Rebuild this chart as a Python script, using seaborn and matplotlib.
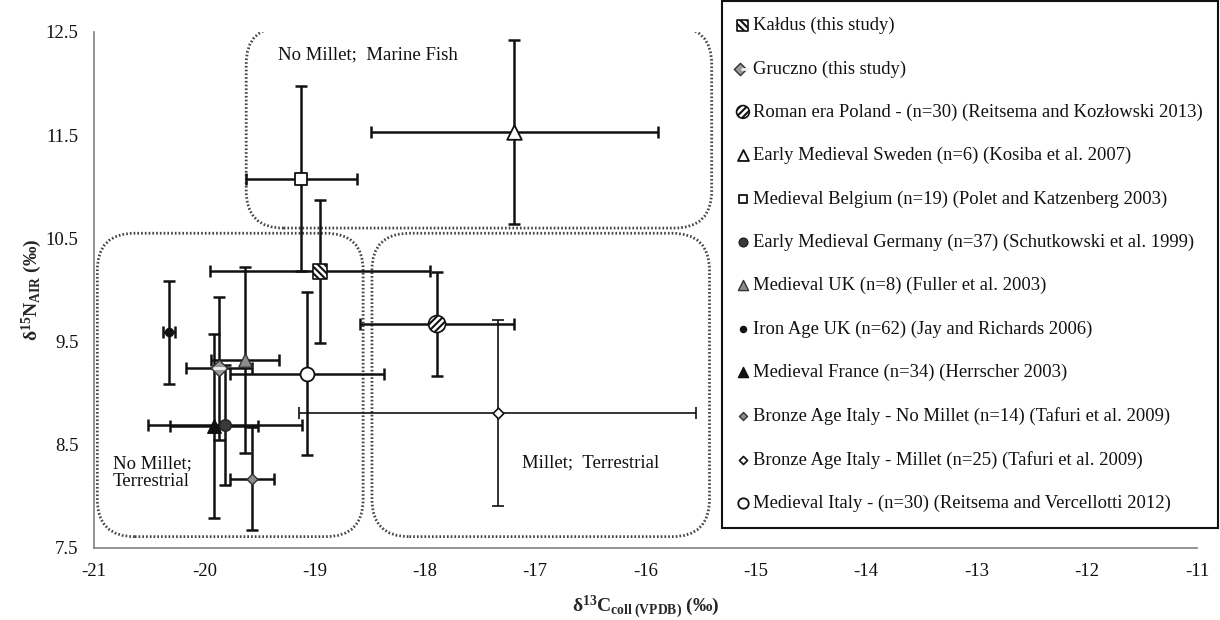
import matplotlib
matplotlib.use("Agg")
import matplotlib.pyplot as plt
import seaborn as sns
import pandas as pd
from matplotlib.patches import FancyBboxPatch
from matplotlib.legend_handler import HandlerTuple

# ---- data: mean d13C / d15N with 1 SD ----
groups = [
    "Kałdus (this study)",
    "Gruczno (this study)",
    "Roman era Poland - (n=30) (Reitsema and Kozłowski 2013)",
    "Early Medieval Sweden (n=6) (Kosiba et al. 2007)",
    "Medieval Belgium (n=19) (Polet and Katzenberg 2003)",
    "Early Medieval Germany (n=37) (Schutkowski et al. 1999)",
    "Medieval UK (n=8) (Fuller et al. 2003)",
    "Iron Age UK (n=62) (Jay and Richards 2006)",
    "Medieval France (n=34) (Herrscher 2003)",
    "Bronze Age Italy - No Millet (n=14) (Tafuri et al. 2009)",
    "Bronze Age Italy - Millet (n=25) (Tafuri et al. 2009)",
    "Medieval Italy - (n=30) (Reitsema and Vercellotti 2012)",
]
d13c = [-18.95, -19.87, -17.89, -17.19, -19.12, -19.81, -19.63, -20.32, -19.91, -19.57, -17.34, -19.07]
d15n = [10.18, 9.24, 9.67, 11.53, 11.08, 8.69, 9.32, 9.59, 8.68, 8.17, 8.81, 9.19]
d13c_sd = [1.00, 0.30, 0.70, 1.30, 0.50, 0.70, 0.31, 0.05, 0.40, 0.20, 1.80, 0.70]
d15n_sd = [0.69, 0.69, 0.50, 0.89, 0.90, 0.58, 0.90, 0.50, 0.89, 0.50, 0.90, 0.79]

x_ticks = [-21, -20, -19, -18, -17, -16, -15, -14, -13, -12, -11]
y_ticks = [7.5, 8.5, 9.5, 10.5, 11.5, 12.5]

# dietary zones: (label, x0, x1, y0, y1)
zone_names = ["No Millet;  Marine Fish", "No Millet;\nTerrestrial", "Millet;  Terrestrial"]
zone_x0 = [-19.62, -20.97, -18.48]
zone_x1 = [-15.40, -18.56, -15.42]
zone_y0 = [10.60, 7.61, 7.61]
zone_y1 = [12.55, 10.55, 10.55]
zone_label_x = [-19.33, -20.83, -17.12]
zone_label_y = [12.28, 8.23, 8.32]

df = pd.DataFrame({"group": groups, "d13c": d13c, "d15n": d15n,
                   "sd_c": d13c_sd, "sd_n": d15n_sd})

# marker appearance per group
styles = [
    dict(marker="s", s=110, fc="white", ec="#111111", hatch="\\\\\\\\\\", lw=1.2),
    dict(marker="D", s=70, fc="#9a9a9a", ec="#333333", hatch=None, lw=1.0),
    dict(marker="o", s=150, fc="white", ec="#111111", hatch="/////", lw=1.2),
    dict(marker="^", s=110, fc="white", ec="#111111", hatch=None, lw=1.3),
    dict(marker="s", s=70, fc="white", ec="#111111", hatch=None, lw=1.3),
    dict(marker="o", s=70, fc="#3a3a3a", ec="#222222", hatch=None, lw=1.0),
    dict(marker="^", s=95, fc="#8c8c8c", ec="#333333", hatch=None, lw=1.0),
    dict(marker="o", s=34, fc="#111111", ec="#111111", hatch=None, lw=1.0),
    dict(marker="^", s=95, fc="#111111", ec="#111111", hatch=None, lw=1.0),
    dict(marker="D", s=30, fc="#8c8c8c", ec="#333333", hatch=None, lw=1.0),
    dict(marker="D", s=30, fc="white", ec="#111111", hatch=None, lw=1.2),
    dict(marker="o", s=100, fc="white", ec="#111111", hatch=None, lw=1.3),
]
bar_lw = [1.8, 1.8, 1.8, 1.8, 1.8, 1.8, 1.8, 1.8, 1.8, 1.8, 1.2, 1.8]

sns.set_theme(style="white")
plt.rcParams["font.family"] = ["Liberation Serif", "DejaVu Serif"]
plt.rcParams["mathtext.fontset"] = "custom"
plt.rcParams["mathtext.rm"] = "Liberation Serif"
plt.rcParams["mathtext.it"] = "Liberation Serif:italic"
plt.rcParams["mathtext.bf"] = "Liberation Serif:bold"
plt.rcParams["hatch.linewidth"] = 1.5
plt.rcParams["hatch.color"] = "#111111"

W, H = 1220, 620
fig = plt.figure(figsize=(W / 100, H / 100), dpi=100)
ax = fig.add_axes([94 / W, 72 / H, 1103 / W, 516 / H])

# dotted rounded zones
for name, x0, x1, y0, y1, lx, ly in zip(zone_names, zone_x0, zone_x1, zone_y0, zone_y1,
                                         zone_label_x, zone_label_y):
    box = FancyBboxPatch((x0, y0), x1 - x0, y1 - y0,
                         boxstyle="round,pad=0,rounding_size=0.34", mutation_aspect=1.06,
                         fill=False, ec="#444444", lw=2.0, ls=(0, (0.6, 0.75)), zorder=1)
    ax.add_patch(box)
    ax.text(lx, ly, name, fontsize=13.5, ha="left", va="center", color="#111111",
            linespacing=1.05, zorder=2)

# error bars
for i, row in df.iterrows():
    ax.errorbar(row.d13c, row.d15n, xerr=row.sd_c, yerr=row.sd_n, fmt="none",
                ecolor="#111111", elinewidth=bar_lw[i], capsize=4, capthick=bar_lw[i],
                zorder=2)

# markers
handles = []
for i, row in df.iterrows():
    st = styles[i]
    n_before = len(ax.collections)
    sns.scatterplot(data=df.iloc[[i]], x="d13c", y="d15n", ax=ax, marker=st["marker"],
                    s=st["s"], color=st["fc"], edgecolor=st["ec"], linewidth=st["lw"],
                    hatch=st["hatch"], zorder=4, legend=False)
    coll = ax.collections[n_before]
    if i == 1:
        # Gruczno: diamond crossed by a horizontal bar
        n2 = len(ax.collections)
        sns.scatterplot(data=df.iloc[[i]], x="d13c", y="d15n", ax=ax, marker="_",
                        s=70, color="#f2f2f2", linewidth=2.0, zorder=5, legend=False)
        handles.append((coll, ax.collections[n2]))
    else:
        handles.append(coll)

ax.set_xlim(-21, -11)
ax.set_ylim(7.5, 12.5)
ax.set_xticks(x_ticks)
ax.set_xticklabels([f"{t:d}" for t in x_ticks])
ax.set_yticks(y_ticks)
ax.set_yticklabels([f"{t:.1f}" for t in y_ticks])
ax.tick_params(axis="both", labelsize=13.5, colors="#111111", length=5, width=1,
               direction="out", pad=6)
ax.tick_params(axis="both", color="#7f7f7f")
for side in ("top", "right"):
    ax.spines[side].set_visible(False)
for side in ("left", "bottom"):
    ax.spines[side].set_color("#7f7f7f")
    ax.spines[side].set_linewidth(1.2)

ax.set_xlabel(r"$\mathbf{\delta^{13}C_{coll\ (VPDB)}}$ (‰)", fontsize=14, fontweight="bold")
ax.set_ylabel(r"$\mathbf{\delta^{15}N_{AIR}}$ (‰)", fontsize=14, fontweight="bold")
ax.xaxis.set_label_coords(0.5, -0.088)
ax.yaxis.set_label_coords(-0.045, 0.5)

leg = fig.legend(handles, groups, loc="upper left",
                 bbox_to_anchor=(722 / W, 1 - 1 / H, (1218 - 722) / W, 0),
                 mode="expand", borderaxespad=0, fontsize=13.4, frameon=True,
                 fancybox=False, framealpha=1, edgecolor="#111111",
                 borderpad=0.85, labelspacing=1.40, handlelength=0.55,
                 handletextpad=0.25, markerscale=0.75,
                 handler_map={tuple: HandlerTuple(ndivide=None, pad=0)})
leg.get_frame().set_linewidth(1.5)
for t in leg.get_texts():
    t.set_color("#111111")

fig.savefig("out.png", dpi=100, facecolor="white")
